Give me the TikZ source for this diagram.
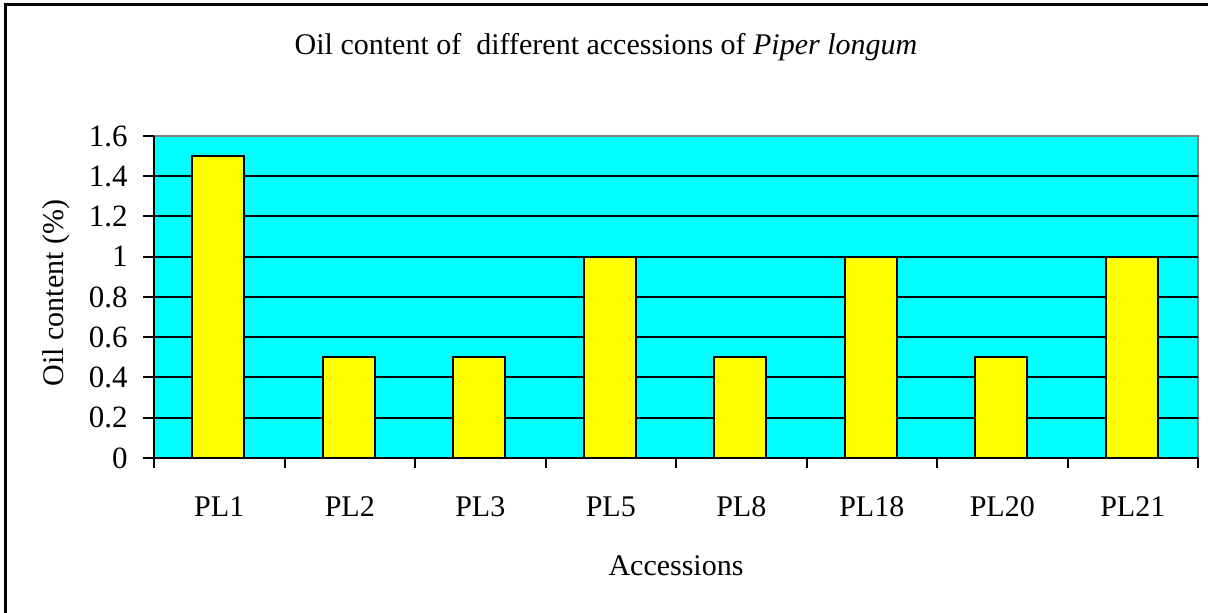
\documentclass[tikz,border=0pt]{standalone}
\usepackage{fontspec}
\setmainfont{Liberation Serif}
\definecolor{plotcyan}{RGB}{0,255,255}
\definecolor{baryellow}{RGB}{255,255,0}
\definecolor{plotgray}{RGB}{128,128,128}
\begin{document}
\begin{tikzpicture}[x=0.5pt, y=0.5pt, font=\fontsize{15}{18}\selectfont,
  bar/.style={draw, line width=1pt, fill=baryellow},
  axisline/.style={line width=1pt}]
\useasboundingbox (0,0) rectangle (1208,613);
\draw[line width=1.5pt] (5,0) -- (5,608) -- (1208,608);
\node (title) at (606,566) {Oil content of~ different accessions of \textit{Piper longum}};
% plot area and grid
\fill[plotcyan] (154,155) rectangle (1198,477);
\draw[plotgray, line width=1pt] (154,477) -- (1198,477) -- (1198,155);
\foreach \v in {1,...,7}
  \draw[axisline] (154,155+40.25*\v) -- (1198,155+40.25*\v);
\foreach \n/\h [count=\i from 0] in {PL1/1.5,PL2/0.5,PL3/0.5,PL5/1,PL8/0.5,PL18/1,PL20/0.5,PL21/1}{
  \draw[bar] ({192+130.5*\i},155) rectangle ++(52,{201.25*\h});
  \node (\n) at ({154+130.5*(\i+0.5)},106) {\n};
}
\draw[axisline] (154,477) -- (154,155) -- (1198,155);
\foreach \v/\t in {0/0,1/0.2,2/0.4,3/0.6,4/0.8,5/1,6/1.2,7/1.4,8/1.6}{
  \draw[axisline] (143,155+40.25*\v) -- (154,155+40.25*\v);
  \node[anchor=east, inner sep=0pt, font=\fontsize{15.5}{18}\selectfont] (y\v) at (128,155+40.25*\v) {\t};
}
\foreach \k in {0,...,8}
  \draw[axisline] ({154+130.5*\k},155) -- ({154+130.5*\k},145);
\node[rotate=90] (ylabel) at (56,320) {Oil content (\%)};
\node (xlabel) at (676,47) {Accessions};
\end{tikzpicture}
\end{document}
